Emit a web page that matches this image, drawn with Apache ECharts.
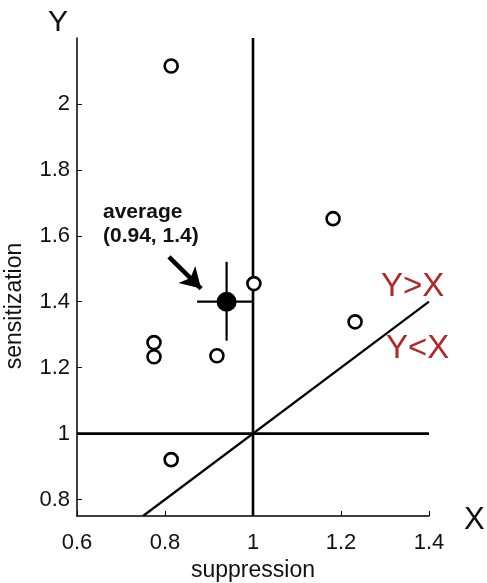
<!DOCTYPE html>
<html><head><meta charset="utf-8">
<script src="https://cdn.jsdelivr.net/npm/echarts@6/dist/echarts.min.js"></script>
<style>html,body{margin:0;padding:0;background:#fff}#c{width:487px;height:583px}</style>
</head><body><div id="c"></div>
<script>
// Data
const pointsX = [0.814, 1.182, 1.002, 1.232, 0.775, 0.775, 0.918, 0.814];
const pointsY = [2.115, 1.652, 1.455, 1.339, 1.276, 1.233, 1.236, 0.921];
const avgX = 0.94, avgY = 1.4;
const avgXErr = [0.873, 0.998];
const avgYErr = [1.282, 1.521];
const xTicks = [0.6, 0.8, 1, 1.2, 1.4];
const yTicks = [0.8, 1, 1.2, 1.4, 1.6, 1.8, 2];
const xRange = [0.6, 1.4];
const yRange = [0.75, 2.2];
const arrowTail = [0.809, 1.536];
const arrowTip = [0.882, 1.44];

const F = '"Liberation Sans", Arial, sans-serif';
const chart = echarts.init(document.getElementById('c'), null, {renderer: 'canvas'});
const scatterData = pointsX.map((x, i) => [x, pointsY[i]]);
const lineStyleThick = {color: '#000', width: 2.6};
chart.setOption({
  animation: false,
  grid: {left: 77, right: 58, top: 38, bottom: 67, containLabel: false, outerBoundsMode: 'none'},
  xAxis: {
    type: 'value', min: xRange[0], max: xRange[1],
    splitLine: {show: false},
    axisLine: {lineStyle: {color: '#000', width: 1.5}},
    axisTick: {inside: true, length: 5, customValues: xTicks, lineStyle: {color: '#000', width: 1}},
    axisLabel: {customValues: xTicks, color: '#111', fontFamily: F, fontSize: 22, margin: 16},
    name: 'suppression', nameLocation: 'middle', nameGap: 42,
    nameTextStyle: {color: '#111', fontFamily: F, fontSize: 23}
  },
  yAxis: {
    type: 'value', min: yRange[0], max: yRange[1],
    splitLine: {show: false},
    axisLine: {lineStyle: {color: '#000', width: 1.5}},
    axisTick: {inside: true, length: 5, customValues: yTicks, lineStyle: {color: '#000', width: 1}},
    axisLabel: {customValues: yTicks, color: '#111', fontFamily: F, fontSize: 22, margin: 7}
  },
  series: [
    {type: 'line', data: [[xRange[0], 1], [xRange[1], 1]], symbol: 'none', lineStyle: lineStyleThick, z: 2},
    {type: 'line', data: [[1, yRange[0]], [1, yRange[1]]], symbol: 'none', lineStyle: lineStyleThick, z: 2},
    {type: 'line', data: [[yRange[0], yRange[0]], [xRange[1], xRange[1]]], symbol: 'none', lineStyle: {color: '#000', width: 2.2}, z: 2},
    {type: 'line', data: [[avgXErr[0], avgY], [avgXErr[1], avgY]], symbol: 'none', lineStyle: {color: '#000', width: 2.2}, z: 3},
    {type: 'line', data: [[avgX, avgYErr[0]], [avgX, avgYErr[1]]], symbol: 'none', lineStyle: {color: '#000', width: 2.2}, z: 3},
    {type: 'scatter', data: scatterData, symbol: 'circle', symbolSize: 13,
     itemStyle: {color: '#fff', borderColor: '#000', borderWidth: 2.6, opacity: 1}, z: 5},
    {type: 'scatter', data: [[avgX, avgY]], symbol: 'circle', symbolSize: 20,
     itemStyle: {color: '#000', opacity: 1}, z: 6,
     markLine: {
       silent: true, symbol: ['none', 'arrow'], symbolSize: [18, 20],
       lineStyle: {color: '#000', width: 4.5, type: 'solid', opacity: 1}, label: {show: false},
       data: [[{coord: arrowTail}, {coord: arrowTip}]]
     }}
  ],
  graphic: [
    {type: 'text', x: 15, y: 306, rotation: Math.PI / 2,
     style: {text: 'sensitization', font: '23px ' + F, fill: '#111', align: 'center', verticalAlign: 'middle'}},
    {type: 'text', left: 48, top: 8, style: {text: 'Y', font: '30px ' + F, fill: '#111'}},
    {type: 'text', left: 464, top: 505, style: {text: 'X', font: '31px ' + F, fill: '#111'}},
    {type: 'text', left: 381, top: 270, style: {text: 'Y>X', font: '33px ' + F, fill: '#b0282a'}},
    {type: 'text', left: 386, top: 332, style: {text: 'Y<X', font: '33px ' + F, fill: '#b0282a'}},
    {type: 'text', left: 103, top: 200, style: {text: 'average\n(0.94, 1.4)', font: 'bold 21px ' + F, lineHeight: 24, fill: '#111'}}
  ]
});
</script></body></html>
